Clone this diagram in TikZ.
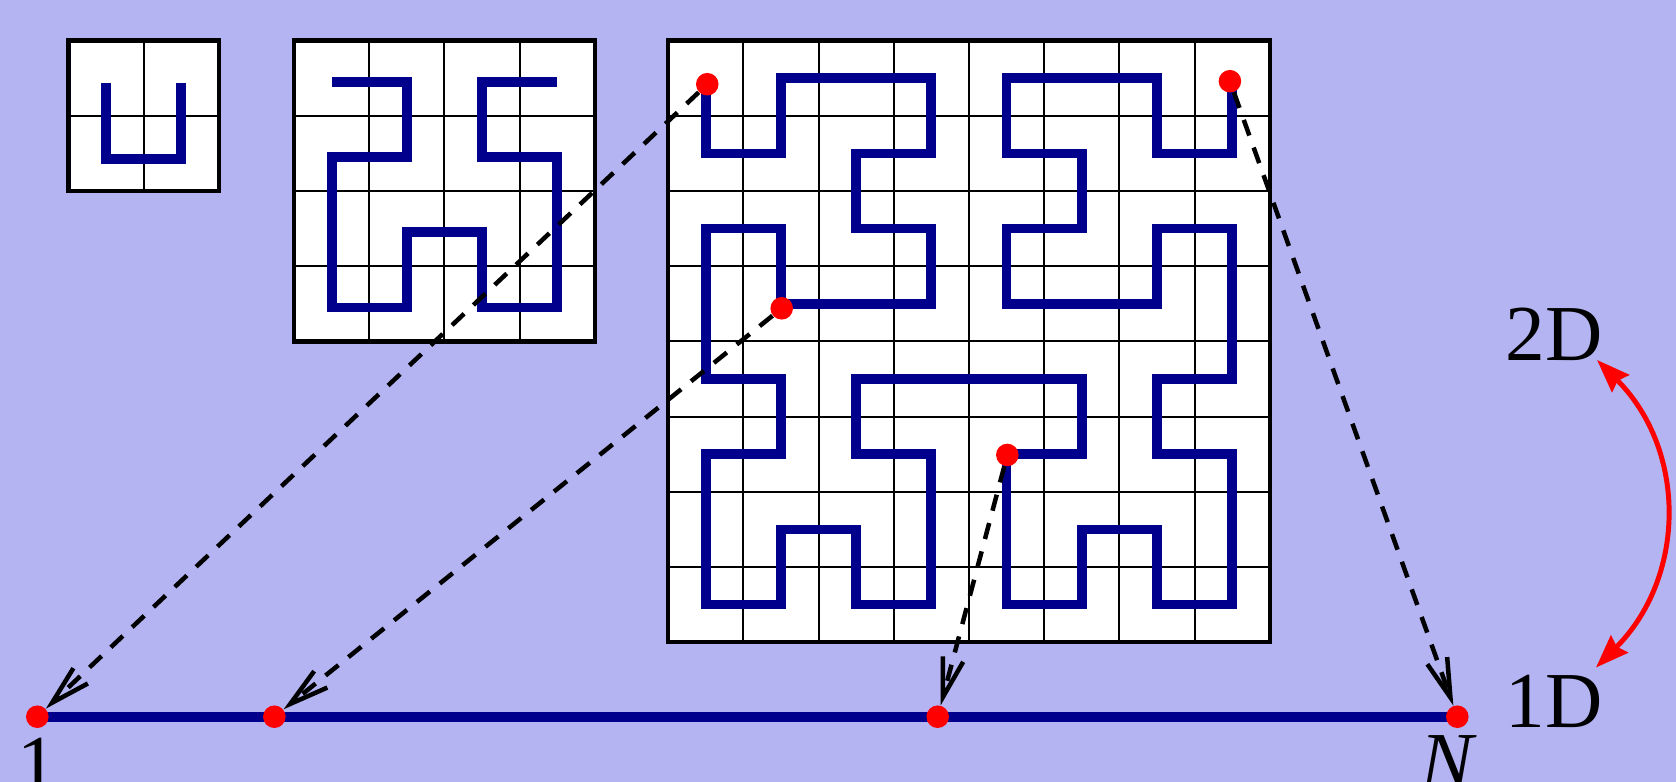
\documentclass[tikz,border=0pt]{standalone}
\usepackage{fontspec}
\setmainfont{Liberation Serif}
\usetikzlibrary{arrows.meta}
\definecolor{bgcol}{RGB}{180,180,242}
\definecolor{curvecol}{RGB}{0,0,140}
\pgfdeclarelayer{back}
\pgfdeclarelayer{mid}
\pgfsetlayers{back,mid,main}
\begin{document}
\begin{tikzpicture}[x=1cm,y=-1cm,
  gridthin/.style={line width=0.028cm},
  boxframe/.style={line width=0.056cm},
  hilb/.style={draw=curvecol, line width=0.13cm, line join=miter, line cap=butt},
  dot/.style={circle, fill=red, inner sep=0pt, minimum size=0.3cm},
  mapto/.style={line width=0.06cm, dash pattern=on 0.22cm off 0.17cm,
    -{Straight Barb[length=0.52cm,width=0.28cm]}},
  lbl/.style={font=\fontsize{30pt}{32pt}\selectfont, inner sep=0pt},
  dimarrow/.style={red, line width=0.066cm,
    {Stealth[length=0.44cm,width=0.32cm,inset=0.05cm]}-{Stealth[length=0.44cm,width=0.32cm,inset=0.05cm]}}
]
\useasboundingbox (0,0) rectangle (22.287,10.399);

% ---------- dots (main layer) ----------
\node[dot] (d1) at (9.405,1.12) {};
\node[dot] (d2) at (10.395,4.10) {};
\node[dot] (d3) at (13.395,6.05) {};
\node[dot] (d4) at (16.355,1.08) {};
\node[dot] (p1) at (0.496,9.531) {};
\node[dot] (p2) at (3.648,9.531) {};
\node[dot] (p3) at (12.469,9.531) {};
\node[dot] (pN) at (19.379,9.531) {};

% ---------- labels ----------
\node[lbl, anchor=base] (one) at (0.50,10.51) {1};
\node[lbl, anchor=base] (enn) at (19.26,10.475) {\textit{N}};
\node[lbl, anchor=base east] (t2D) at (21.32,4.80) {2D};
\node[lbl, anchor=base east] (t1D) at (21.32,9.668) {1D};

\draw[dimarrow] ([xshift=-0.083cm,yshift=0.013cm]t2D.base east)
  .. controls +(1.2,1.2) and +(1.2,-1.2) ..
  ([xshift=-0.097cm,yshift=0.088cm]t1D.north east);

\begin{pgfonlayer}{back}
\fill[bgcol] (0,0) rectangle (22.287,10.399);
% box 1
\begin{scope}[shift={(0.91,0.54)}]
  \fill[white] (0,0) rectangle (2,2);
  \foreach \i in {1} {\draw[gridthin] (\i,0) -- (\i,2); \draw[gridthin] (0,\i) -- (2,\i);}
  \draw[boxframe] (0,0) rectangle (2,2);
\end{scope}
% box 2
\begin{scope}[shift={(3.91,0.54)}]
  \fill[white] (0,0) rectangle (4,4);
  \foreach \i in {1,2,3} {\draw[gridthin] (\i,0) -- (\i,4); \draw[gridthin] (0,\i) -- (4,\i);}
  \draw[boxframe] (0,0) rectangle (4,4);
\end{scope}
% box 3
\begin{scope}[shift={(8.885,0.54)}]
  \fill[white] (0,0) rectangle (8,8);
  \foreach \i in {1,...,7} {\draw[gridthin] (\i,0) -- (\i,8); \draw[gridthin] (0,\i) -- (8,\i);}
  \draw[boxframe] (0,0) rectangle (8,8);
\end{scope}
% curves
\draw[hilb, shift={(1.41,1.11)}] (0,0)--(0,1)--(1,1)--(1,0);
\draw[hilb, shift={(4.41,1.09)}] (0,0)--(1,0)--(1,1)--(0,1)--(0,2)--(0,3)--(1,3)--(1,2)--(2,2)--(2,3)--(3,3)--(3,2)--(3,1)--(2,1)--(2,0)--(3,0);
\draw[hilb, shift={(9.385,1.04)}]
  (0,0)--(0,1)--(1,1)--(1,0)--(2,0)--(3,0)--(3,1)--(2,1)--(2,2)--(3,2)--(3,3)--(2,3)--(1,3)--(1,2)--(0,2)--(0,3)
  --(0,4)--(1,4)--(1,5)--(0,5)--(0,6)--(0,7)--(1,7)--(1,6)--(2,6)--(2,7)--(3,7)--(3,6)--(3,5)--(2,5)--(2,4)--(3,4)
  --(4,4)--(5,4)--(5,5)--(4,5)--(4,6)--(4,7)--(5,7)--(5,6)--(6,6)--(6,7)--(7,7)--(7,6)--(7,5)--(6,5)--(6,4)--(7,4)
  --(7,3)--(7,2)--(6,2)--(6,3)--(5,3)--(4,3)--(4,2)--(5,2)--(5,1)--(4,1)--(4,0)--(5,0)--(6,0)--(6,1)--(7,1)--(7,0);
\end{pgfonlayer}

\begin{pgfonlayer}{mid}
\draw[curvecol, line width=0.13cm] (p1.center) -- (pN.center);
\draw[mapto] (d1) -- (p1);
\draw[mapto] (d2) -- (p2);
\draw[mapto] (d3) -- (p3);
\draw[mapto] (d4) -- (pN);
\end{pgfonlayer}
\end{tikzpicture}
\end{document}
